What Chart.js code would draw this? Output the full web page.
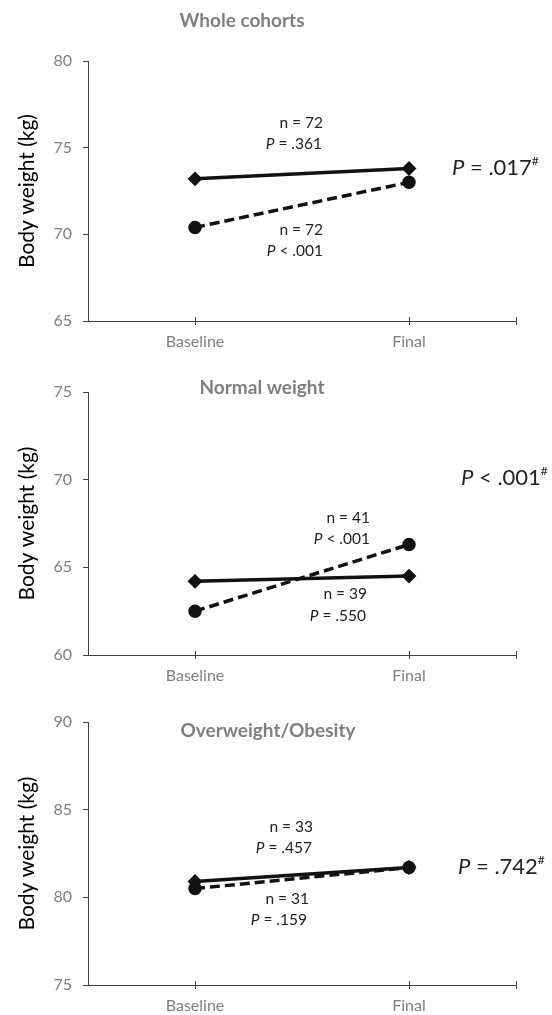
<!DOCTYPE html>
<html>
<head>
<meta charset="utf-8">
<script src="https://cdn.jsdelivr.net/npm/chart.js@4/dist/chart.umd.min.js"></script>
<style>
  html, body { margin: 0; padding: 0; background: #fff; }
  canvas { position: absolute; left: 0; }
</style>
</head>
<body>
<canvas id="c1" width="552" height="360" style="top:0px"></canvas>
<canvas id="c2" width="552" height="324" style="top:370px"></canvas>
<canvas id="c3" width="552" height="315" style="top:700px"></canvas>
<script>
const categories = ['Baseline', 'Final'];

// whole cohorts
const wholeSolid = [73.2, 73.8];
const wholeDashed = [70.4, 73.0];
const wholeTicks = [65, 70, 75, 80];

// normal weight
const normalSolid = [64.2, 64.5];
const normalDashed = [62.5, 66.3];
const normalTicks = [60, 65, 70, 75];

// overweight / obesity
const overSolid = [80.9, 81.7];
const overDashed = [80.5, 81.7];
const overTicks = [75, 80, 85, 90];

const FONT = 'Lato, "Open Sans", sans-serif';
const GREY = '#7f7f7f';

// category axis with a free slot before, between and after the two time points
const xLabels = ['', categories[0], '', categories[1], ''];
function pad(vals) {
  return [null, vals[0], null, vals[1], null];
}

// text pieces: [text, italic, superscript]
function drawPieces(ctx, pieces, x, y, size, align) {
  const parts = pieces.map(p => {
    const sz = p[2] ? Math.round(size * 0.55) : size;
    const f = (p[1] ? 'italic ' : '') + sz + 'px ' + FONT;
    ctx.font = f;
    return { t: p[0], f: f, w: ctx.measureText(p[0]).width, sup: p[2] };
  });
  const total = parts.reduce((a, p) => a + p.w, 0);
  let cx = align === 'right' ? x - total : (align === 'center' ? x - total / 2 : x);
  ctx.textBaseline = 'middle';
  ctx.textAlign = 'left';
  parts.forEach(p => {
    ctx.font = p.f;
    ctx.fillText(p.t, cx, p.sup ? y - size * 0.3 : y);
    cx += p.w;
  });
}

const notesPlugin = {
  id: 'notes',
  afterDraw(chart, args, opts) {
    const ctx = chart.ctx;
    ctx.save();
    // panel title
    ctx.fillStyle = GREY;
    ctx.font = 'bold 19px ' + FONT;
    ctx.textAlign = 'center';
    ctx.textBaseline = 'middle';
    ctx.fillText(opts.title[0], opts.title[1], opts.title[2]);
    ctx.fillStyle = '#222';
    opts.items.forEach(it => drawPieces(ctx, it.pieces, it.x, it.y, it.size, it.align));
    // little x ticks that cross the axis line
    const xs = chart.scales.x, b = chart.chartArea.bottom;
    ctx.strokeStyle = '#404040';
    ctx.lineWidth = 1;
    [1, 3, 4].forEach(i => {
      const px = Math.round(xs.getPixelForValue(i)) + 0.5;
      ctx.beginPath();
      ctx.moveTo(px, b - 4);
      ctx.lineTo(px, b + 4);
      ctx.stroke();
    });
    ctx.restore();
  }
};

function makeChart(id, solid, dashed, ticks, topPad, xHeight, title, items) {
  new Chart(document.getElementById(id), {
    type: 'line',
    data: {
      labels: xLabels,
      datasets: [
        {
          data: pad(solid),
          borderColor: '#111',
          backgroundColor: '#111',
          borderWidth: 3.5,
          pointStyle: 'rectRot',
          pointRadius: 5,
          spanGaps: true
        },
        {
          data: pad(dashed),
          borderColor: '#111',
          backgroundColor: '#111',
          borderWidth: 3.5,
          borderDash: [10, 5],
          pointStyle: 'circle',
          pointRadius: 5,
          spanGaps: true
        }
      ]
    },
    options: {
      responsive: false,
      animation: false,
      layout: { padding: { left: 0, right: 36, top: topPad, bottom: 0 } },
      plugins: {
        legend: { display: false },
        tooltip: { enabled: false },
        notes: { title: title, items: items }
      },
      scales: {
        x: {
          offset: false,
          border: { display: true, color: '#404040', width: 1 },
          grid: {
            drawOnChartArea: false,
            tickLength: 5,
            tickColor: 'rgba(0,0,0,0)'
          },
          ticks: {
            autoSkip: false,
            maxRotation: 0,
            padding: 6,
            color: GREY,
            font: { family: FONT, size: 16 }
          },
          afterFit: s => { s.height = xHeight; }
        },
        y: {
          min: ticks[0],
          max: ticks[ticks.length - 1],
          afterBuildTicks: s => { s.ticks = ticks.map(v => ({ value: v })); },
          border: { display: true, color: '#404040', width: 1 },
          grid: { drawOnChartArea: false, tickLength: 5, tickColor: '#404040' },
          ticks: {
            padding: 11,
            color: GREY,
            font: { family: FONT, size: 16 }
          },
          title: {
            display: true,
            text: 'Body weight (kg)',
            color: '#000',
            font: { family: FONT, size: 21 },
            padding: { top: 15, bottom: 0 }
          },
          afterFit: s => { s.width = 88; }
        }
      }
    },
    plugins: [notesPlugin]
  });
}

makeChart('c1', wholeSolid, wholeDashed, wholeTicks, 61, 39,
  ['Whole cohorts', 242, 21], [
    { pieces: [['n = 72']], x: 323, y: 123, size: 15.5, align: 'right' },
    { pieces: [['P', true], [' = .361']], x: 322, y: 144, size: 15.5, align: 'right' },
    { pieces: [['n = 72']], x: 323, y: 230, size: 15.5, align: 'right' },
    { pieces: [['P', true], [' < .001']], x: 323, y: 251, size: 15.5, align: 'right' },
    { pieces: [['P', true], [' = .017'], ['#', false, true]], x: 452, y: 168, size: 22, align: 'left' }
  ]);

makeChart('c2', normalSolid, normalDashed, normalTicks, 22, 39,
  ['Normal weight', 262, 18], [
    { pieces: [['n = 41']], x: 370, y: 148, size: 15.5, align: 'right' },
    { pieces: [['P', true], [' < .001']], x: 370, y: 169, size: 15.5, align: 'right' },
    { pieces: [['n = 39']], x: 367, y: 224, size: 15.5, align: 'right' },
    { pieces: [['P', true], [' = .550']], x: 366, y: 246, size: 15.5, align: 'right' },
    { pieces: [['P', true], [' < .001'], ['#', false, true]], x: 461, y: 108, size: 22, align: 'left' }
  ]);

makeChart('c3', overSolid, overDashed, overTicks, 22, 30,
  ['Overweight/Obesity', 268, 31], [
    { pieces: [['n = 33']], x: 313, y: 127, size: 15.5, align: 'right' },
    { pieces: [['P', true], [' = .457']], x: 312, y: 148, size: 15.5, align: 'right' },
    { pieces: [['n = 31']], x: 309, y: 199, size: 15.5, align: 'right' },
    { pieces: [['P', true], [' = .159']], x: 307, y: 220, size: 15.5, align: 'right' },
    { pieces: [['P', true], [' = .742'], ['#', false, true]], x: 458, y: 167, size: 22, align: 'left' }
  ]);
</script>
</body>
</html>
